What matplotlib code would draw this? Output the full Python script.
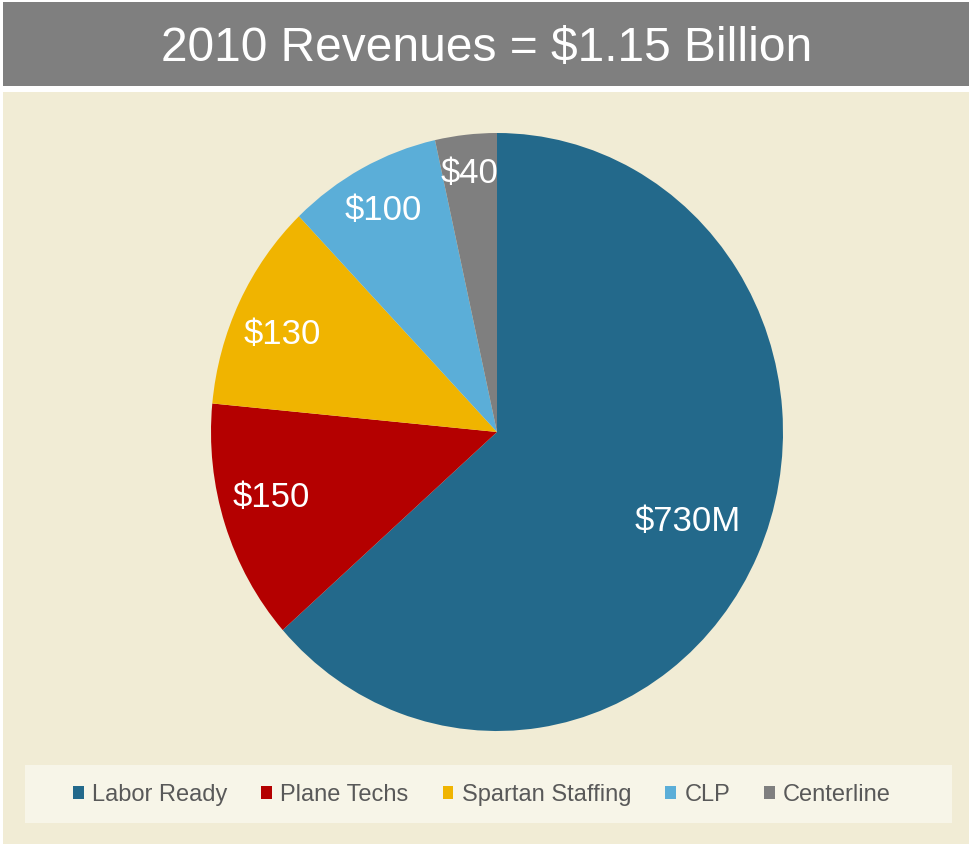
import matplotlib
matplotlib.use("Agg")
import matplotlib.pyplot as plt
from matplotlib.patches import Rectangle
import numpy as np

# data ==============================================
segments = ["Labor Ready", "Plane Techs", "Spartan Staffing", "CLP", "Centerline"]
revenues = [730, 150, 130, 100, 40]
value_labels = ["$730M", "$150", "$130", "$100", "$40"]
colours = ["#23698B", "#B40000", "#F0B400", "#5BAED8", "#7F7F7F"]
title = "2010 Revenues = $1.15 Billion"

# layout ============================================
W, H = 969, 844
label_radius = [0.73, 0.82, 0.82, 0.84, 0.87]
label_turn = [0, -2.6, 2.3, 0, 0]   # degrees off the wedge middle
plt.rcParams['font.family'] = ['Liberation Sans', 'DejaVu Sans']

fig = plt.figure(figsize=(W / 100, H / 100), dpi=100)
fig.patch.set_facecolor("white")

def px_rect(x0, y0, x1, y1, colour):
    # rectangle in pixel coords (top-left origin)
    fig.patches.append(Rectangle((x0 / W, 1 - y1 / H), (x1 - x0) / W, (y1 - y0) / H,
                                 transform=fig.transFigure, facecolor=colour,
                                 edgecolor="none", zorder=-10))

px_rect(3, 2, W, 86, "#7F7F7F")       # header bar
px_rect(3, 92, W, H, "#F1ECD5")       # beige panel
px_rect(25, 765, 952, 823, "#F7F5E8") # legend box

fig.text(487 / W, 1 - 48 / H, title, color="white", fontsize=34.5,
         ha="center", va="center")

# pie: centre (497, 432), rx 286, ry 299
cx, cy, rx, ry = 497, 432, 286, 299
ax = fig.add_axes([(cx - rx) / W, 1 - (cy + ry) / H, 2 * rx / W, 2 * ry / H])
ax.set_zorder(1)
wedges, _ = ax.pie(revenues, colors=colours, startangle=90, counterclock=False,
                   wedgeprops=dict(linewidth=0))
ax.set_aspect("auto")
ax.set_xlim(-1, 1)
ax.set_ylim(-1, 1)
ax.axis("off")

for w, lab, r, t in zip(wedges, value_labels, label_radius, label_turn):
    ang = np.deg2rad((w.theta1 + w.theta2) / 2 + t)
    ax.text(r * np.cos(ang), r * np.sin(ang), lab, color="white",
            fontsize=25, ha="center", va="center")

leg = fig.legend(wedges, segments, loc="center", bbox_to_anchor=(482 / W, 1 - 795 / H),
                 ncol=5, frameon=False, fontsize=17, handlelength=0.45,
                 handleheight=0.45, handletextpad=0.35, columnspacing=1.45,
                 labelcolor="#595959")

fig.savefig("out.png", dpi=100)
